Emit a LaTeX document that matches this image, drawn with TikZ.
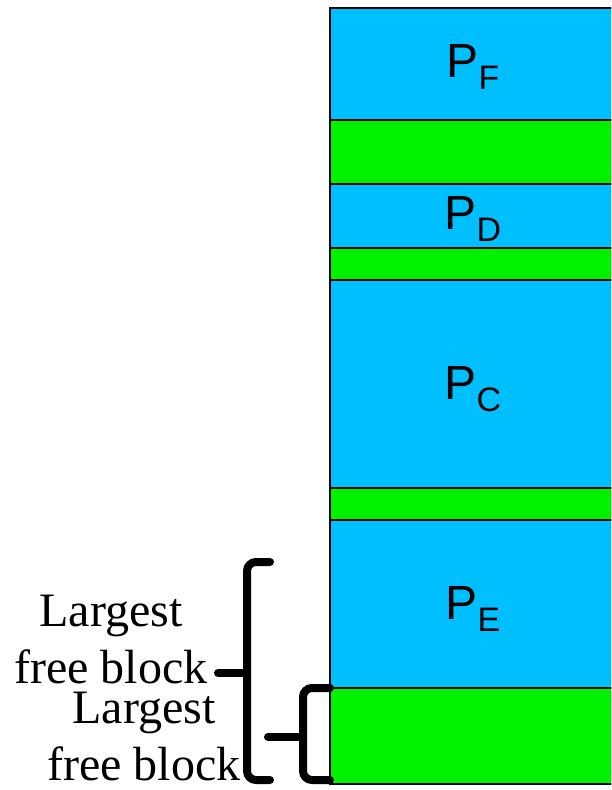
\documentclass[tikz,border=0pt]{standalone}
\usepackage{fontspec}
\setmainfont{Liberation Serif}
\newfontfamily\arial{Liberation Sans}
\usepackage{xcolor}

\definecolor{procblue}{HTML}{00BFFF}
\definecolor{freegreen}{HTML}{00F200}

% process label with a lowered subscript
\newcommand{\procname}[1]{P\raisebox{-12pt}{\fontsize{34}{34}\selectfont #1}}

\tikzset{
  proc/.style={draw=black, line width=1.5pt, fill=procblue},
  hole/.style={draw=black, line width=1.5pt, fill=freegreen},
  plabel/.style={font=\arial\fontsize{48}{48}\selectfont, inner sep=0pt},
  freelabel/.style={font=\fontsize{48}{57}\selectfont, align=center, inner sep=0pt},
  brace/.style={line width=8pt, rounded corners=9pt, line cap=round},
}

\begin{document}
\begin{tikzpicture}[x=1pt, y=-1pt]
\useasboundingbox (0,0) rectangle (611,790);
\clip (0,0) rectangle (611,790);

% memory column, top to bottom
\draw[proc] (330,8)   rectangle (616,120);
\draw[hole] (330,120) rectangle (616,184);
\draw[proc] (330,184) rectangle (616,248);
\draw[hole] (330,248) rectangle (616,280);
\draw[proc] (330,280) rectangle (616,488);
\draw[hole] (330,488) rectangle (616,520);
\draw[proc] (330,520) rectangle (616,688);
\draw[hole] (330,688) rectangle (616,784);

\node[plabel] (pf) at (473,67)  {\procname{F}};
\node[plabel] (pd) at (473,219) {\procname{D}};
\node[plabel] (pc) at (473,389) {\procname{C}};
\node[plabel] (pe) at (473,609) {\procname{E}};

% labels
\node[freelabel, anchor=base] (big)   at (111,683) {Largest\\free block};
\node[freelabel, anchor=base] (small) at (144,780) {Largest\\free block};

\coordinate (bigtip)   at (218,673);
\coordinate (smalltip) at (268,737);

% braces
\draw[brace] (270,562) -- (247,562) -- (247,780) -- (270,780);
\draw[brace] (247,673) -- (bigtip);
\draw[brace] (330,688) -- (303,688) -- (303,780) -- (330,780);
\draw[brace] (303,737) -- (smalltip);

\end{tikzpicture}
\end{document}
